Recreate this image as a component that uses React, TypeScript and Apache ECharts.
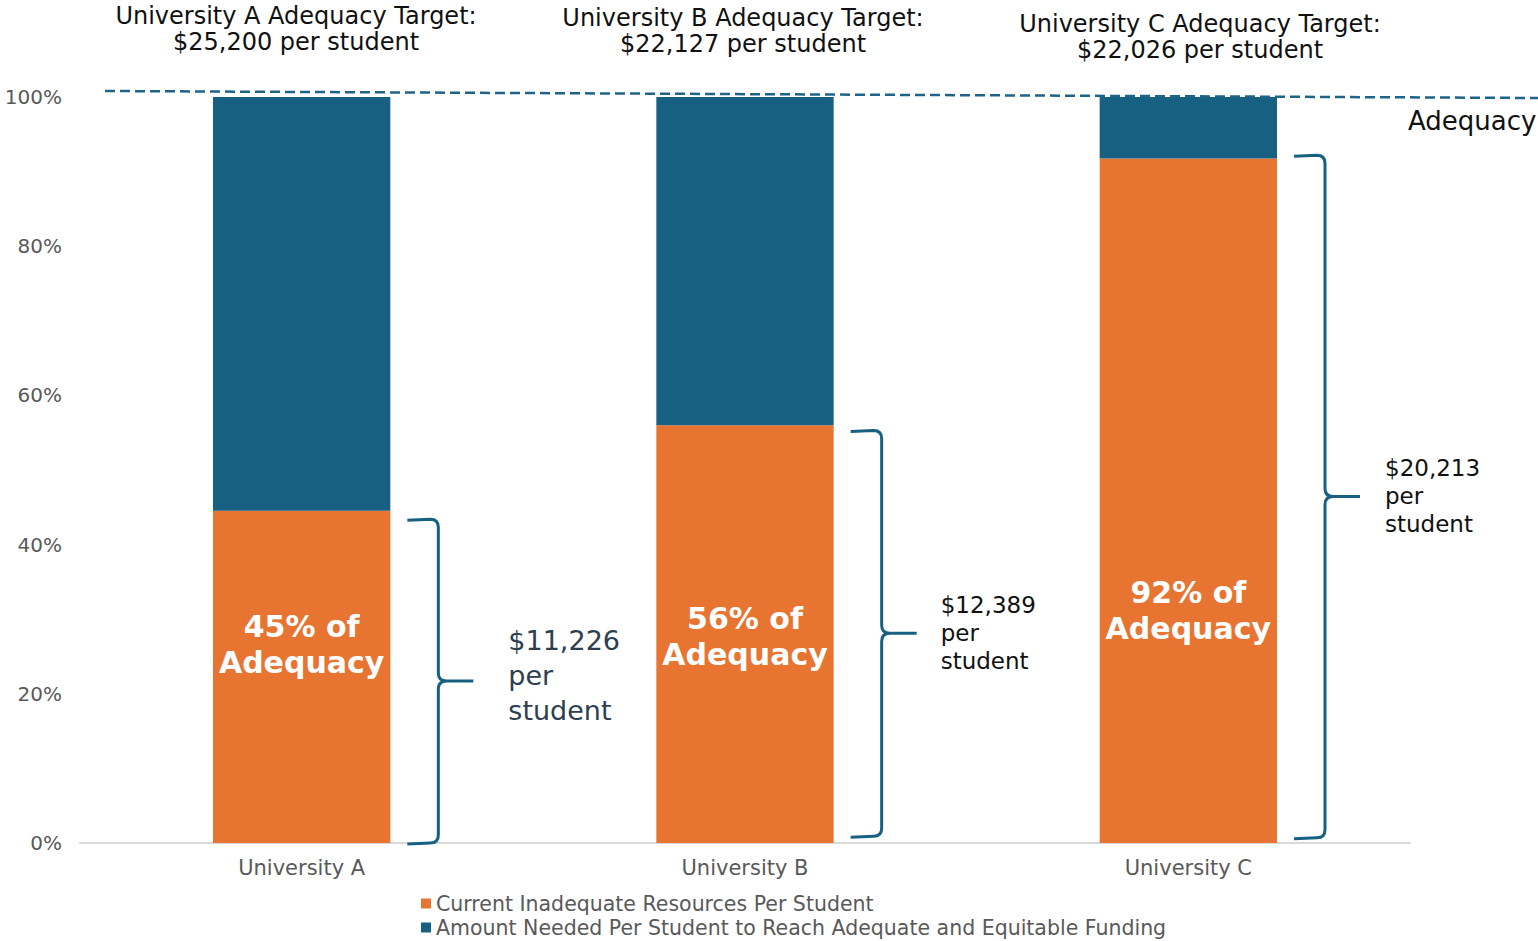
import React, { useEffect, useRef } from "react";
import * as echarts from "echarts";

const categories = ["University A", "University B", "University C"];
const currentPct = [44.55, 55.99, 91.77];
const neededPct = [55.45, 44.01, 8.23];
const adequacyPct = ["45%", "56%", "92%"];
const targetDollars = ["$25,200", "$22,127", "$22,026"];
const currentDollars = ["$11,226", "$12,389", "$20,213"];
const braceLow = [0, 0.9, 0.7];
const braceHigh = [43.4, 55.3, 92.2];
const yTicks = [0, 20, 40, 60, 80, 100];
const seriesNames = [
  "Current Inadequate Resources Per Student",
  "Amount Needed Per Student to Reach Adequate and Equitable Funding",
];

const ORANGE = "#e87432";
const BLUE = "#186082";
const FONT = "DejaVu Sans";

const barLabelOffsets = [-32, 2, 110];
const titleCenters = [296, 743, 1200];
const titleTops = [3, 5, 11];
const braceTextStyles = [
  { fontSize: 27, lineHeight: 35, fill: "#2d3e50", fontWeight: "normal", dx: 118, dy: -6 },
  { fontSize: 23, lineHeight: 28, fill: "#111111", fontWeight: "normal", dx: 107, dy: 0 },
  { fontSize: 23, lineHeight: 28, fill: "#111111", fontWeight: "normal", dx: 108, dy: 0 },
];

export default function App() {
  const ref = useRef<HTMLDivElement>(null);
  useEffect(() => {
    if (!ref.current) return;
    const chart = echarts.init(ref.current, null, { renderer: "svg" });
    const option: any = {
      animation: false,
      backgroundColor: "#ffffff",
      textStyle: { fontFamily: FONT },
      grid: { left: 80, right: 128, top: 97, bottom: 98, containLabel: false },
      legend: {
        orient: "vertical",
        left: 416,
        top: 888,
        height: 120,
        itemWidth: 10,
        itemHeight: 10,
        itemGap: 3,
        icon: "rect",
        data: seriesNames,
        textStyle: { fontFamily: FONT, fontSize: 20.5, color: "#595959", lineHeight: 20 },
      },
      xAxis: {
        type: "category",
        data: categories,
        axisLine: { show: true, lineStyle: { color: "#d9d9d9", width: 2 } },
        axisTick: { show: false },
        axisLabel: { color: "#595959", fontSize: 21, margin: 14, fontFamily: FONT },
      },
      yAxis: {
        type: "value",
        min: yTicks[0],
        max: yTicks[yTicks.length - 1],
        interval: 20,
        axisLine: { show: false },
        axisTick: { show: false },
        splitLine: { show: false },
        axisLabel: { color: "#595959", fontSize: 20, margin: 18, formatter: "{value}%", fontFamily: FONT },
      },
      series: [
        {
          name: seriesNames[0],
          type: "bar",
          stack: "total",
          barWidth: "40%",
          itemStyle: { color: ORANGE },
          data: currentPct.map((v, i) => ({
            value: v,
            label: { offset: [0, barLabelOffsets[i]] },
          })),
          label: {
            show: true,
            position: "inside",
            formatter: (p: any) => `${adequacyPct[p.dataIndex]} of\nAdequacy`,
            color: "#ffffff",
            fontSize: 30,
            fontWeight: "bold",
            lineHeight: 36,
            fontFamily: FONT,
          },
        },
        {
          name: seriesNames[1],
          type: "bar",
          stack: "total",
          barWidth: "40%",
          itemStyle: { color: BLUE },
          data: neededPct,
        },
        {
          type: "custom",
          clip: false,
          z: 10,
          encode: { x: 0, y: [1, 2] },
          data: categories.map((_, i) => [i, braceLow[i], braceHigh[i]]),
          renderItem: (params: any, api: any) => {
            const i = params.dataIndex;
            const top = api.coord([api.value(0), api.value(2)]);
            const bot = api.coord([api.value(0), api.value(1)]);
            const band = api.size([1, 0])[0];
            const right = top[0] + band * 0.2;
            const x0 = right + 17;
            const x1 = right + 48;
            const x2 = right + 83;
            const y0 = top[1];
            const y1 = bot[1];
            const ym = (y0 + y1) / 2;
            const r = 8;
            const d =
              `M${x0},${y0 + 1} L${x1 - r},${y0} Q${x1},${y0} ${x1},${y0 + r} ` +
              `L${x1},${ym - r} Q${x1},${ym} ${x1 + r},${ym} L${x2},${ym} ` +
              `M${x1 + r},${ym} Q${x1},${ym} ${x1},${ym + r} ` +
              `L${x1},${y1 - r} Q${x1},${y1} ${x1 - r},${y1} L${x0},${y1 + 1}`;
            const ts = braceTextStyles[i];
            return {
              type: "group",
              children: [
                {
                  type: "path",
                  shape: { pathData: d },
                  style: { stroke: BLUE, lineWidth: 3, fill: "none" },
                },
                {
                  type: "text",
                  x: right + ts.dx,
                  y: ym + ts.dy,
                  style: {
                    text: `${currentDollars[i]}\nper\nstudent`,
                    fontSize: ts.fontSize,
                    lineHeight: ts.lineHeight,
                    fill: ts.fill,
                    fontWeight: ts.fontWeight,
                    fontFamily: FONT,
                    verticalAlign: "middle",
                    align: "left",
                  },
                },
              ],
            };
          },
        },
      ],
      graphic: [
        {
          type: "line",
          shape: { x1: 105, y1: 91, x2: 1538, y2: 98 },
          style: { stroke: "#1f6388", lineWidth: 2.5, lineDash: [10, 5] },
          z: 20,
        },
        {
          type: "text",
          x: 1408,
          y: 121,
          style: {
            text: "Adequacy",
            fontSize: 26,
            fill: "#111111",
            fontFamily: FONT,
            verticalAlign: "middle",
            align: "left",
          },
        },
        ...categories.map((c, i) => ({
          type: "text",
          x: titleCenters[i],
          y: titleTops[i],
          style: {
            text: `${c} Adequacy Target:\n${targetDollars[i]} per student`,
            fontSize: 24,
            lineHeight: 26,
            fill: "#111111",
            fontFamily: FONT,
            align: "center",
            verticalAlign: "top",
          },
        })),
      ],
    };
    chart.setOption(option);
    return () => chart.dispose();
  }, []);
  return (
    <div
      ref={ref}
      style={{ position: "fixed", left: 0, top: 0, width: 1538, height: 941 }}
    />
  );
}
